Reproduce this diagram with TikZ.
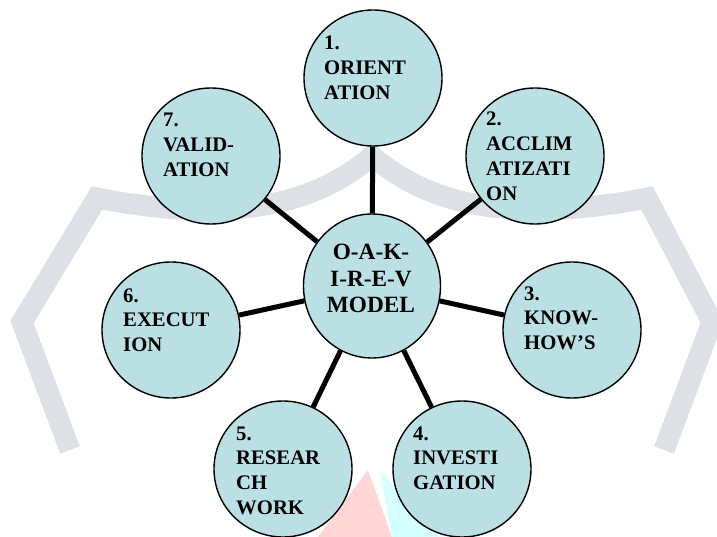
\documentclass[tikz,border=0pt]{standalone}
\usepackage{fontspec}
\setmainfont{Liberation Serif}
\usetikzlibrary{shapes.geometric}
\definecolor{oakfill}{RGB}{187,224,227}
\definecolor{wmgray}{RGB}{221,225,229}
\definecolor{wmpink}{RGB}{255,214,214}
\definecolor{wmcyan}{RGB}{214,255,255}
\tikzset{
  bubble/.style={ellipse, draw=black, line width=1.4pt, fill=oakfill,
    minimum width=138pt, minimum height=136pt, inner sep=0pt},
  hub/.style={bubble, minimum width=137pt, minimum height=144pt},
  label/.style={anchor=base west, inner sep=0pt,
    font=\fontsize{20.7}{24.7}\selectfont\bfseries},
  hublabel/.style={anchor=base, inner sep=0pt,
    font=\fontsize{23.3}{26}\selectfont\bfseries},
  conn/.style={line width=5pt, black},
  band/.style={line width=21pt, wmgray, line join=miter}
}
\begin{document}
\begin{tikzpicture}[x=1pt,y=-1pt]
\useasboundingbox (0,0) rectangle (717,537);
% faint background watermark
\fill[wmpink] (368,470) -- (318,537) -- (392,537) -- cycle;
\fill[wmcyan] (380,470) -- (392,537) -- (440,537) -- cycle;
\draw[band] (70,450) -- (22,322) -- (97,198)
  .. controls (200,218) and (300,218) .. (372,156)
  .. controls (444,218) and (544,218) .. (647,198)
  -- (712,322) -- (664,450);
% bubbles
\node[hub]    (c)  at (372,286) {};
\node[bubble] (e1) at (373,78)  {};
\node[bubble] (e2) at (535,156) {};
\node[bubble] (e3) at (572,330) {};
\node[bubble] (e4) at (462,469) {};
\node[bubble] (e5) at (283,469) {};
\node[bubble] (e6) at (171,330) {};
\node[bubble] (e7) at (211,156) {};
% connectors
\foreach \n in {e1,e2,e3,e4,e5,e6,e7}{\draw[conn] (c) -- (\n);}
% texts
\node[hublabel] (tc) at (371,260) {\vtop{\halign{\hfil#\hfil\cr O-A-K-\cr I-R-E-V\cr MODEL\cr}}};
\node[label] (t1) at (324,50)  {\vtop{\hbox{1.}\hbox{ORIENT}\hbox{ATION}}};
\node[label] (t2) at (486,126) {\vtop{\hbox{2.}\hbox{ACCLIM}\hbox{ATIZATI}\hbox{ON}}};
\node[label] (t3) at (524,300) {\vtop{\hbox{3.}\hbox{KNOW-}\hbox{HOW’S}}};
\node[label] (t4) at (413,440) {\vtop{\hbox{4.}\hbox{INVESTI}\hbox{GATION}}};
\node[label] (t5) at (236,440) {\vtop{\hbox{5.}\hbox{RESEAR}\hbox{CH}\hbox{WORK}}};
\node[label] (t6) at (123,302) {\vtop{\hbox{6.}\hbox{EXECUT}\hbox{ION}}};
\node[label] (t7) at (163,127) {\vtop{\hbox{7.}\hbox{VALID-}\hbox{ATION}}};
\end{tikzpicture}
\end{document}
